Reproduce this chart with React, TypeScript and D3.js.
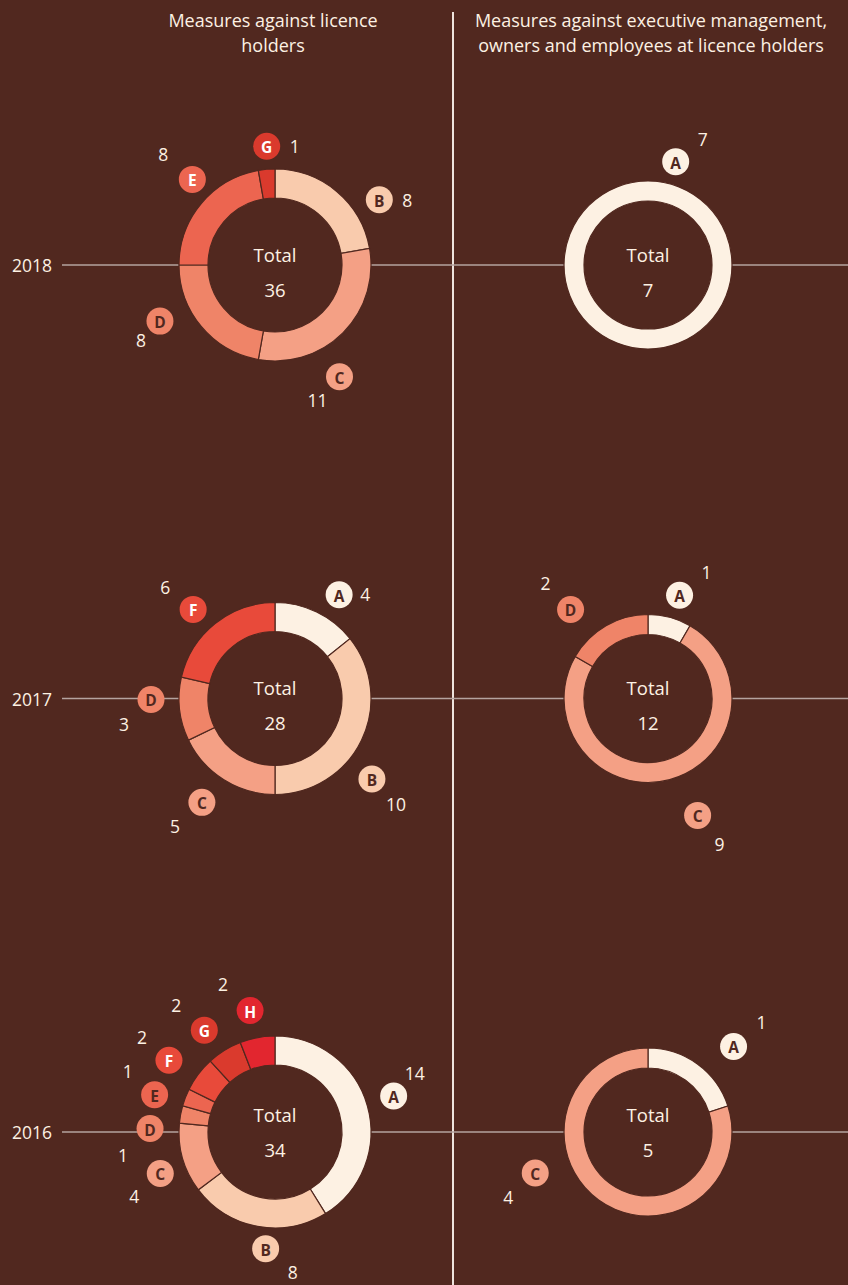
import React from "react"
import * as d3 from "d3"

// categories of measures (A..H)
const categories = ["A", "B", "C", "D", "E", "F", "G", "H"]
const years = ["2018", "2017", "2016"]

// measures against licence holders
const holders2018 = [0, 8, 11, 8, 8, 0, 1, 0]
const holders2017 = [4, 10, 5, 3, 0, 6, 0, 0]
const holders2016 = [14, 8, 4, 1, 1, 2, 2, 2]

// measures against executive management, owners and employees
const persons2018 = [7, 0, 0, 0, 0, 0, 0, 0]
const persons2017 = [1, 0, 9, 2, 0, 0, 0, 0]
const persons2016 = [1, 0, 4, 0, 0, 0, 0, 0]

const headers = [
  ["Measures against licence", "holders"],
  ["Measures against executive management,", "owners and employees at licence holders"]
]

const colours = ["#fdf1e3", "#f9cbad", "#f4a085", "#ef8468", "#ec6550", "#e84a3a", "#da3a2d", "#e2262f"]
const bg = "#51281f"
const cream = "#fdf1e3"

// label placement tweaks: angle nudge (deg) from the slice middle, radius, offset of the number from the badge
const labelNudge: Record<string, Record<string, number[]>> = {
  h2018: { B: [18, 123, 28, 0], C: [15, 129, -22, 23], D: [14, 128, -19, 19], E: [6, 119, -29, -25], G: [1, 119, 28, 0] },
  p2018: { A: [-165, 107, 27, -23] },
  h2017: { A: [6, 122, 26, -1], B: [14, 126, 24, 25], C: [3, 127, -27, 24], D: [6, 124, -27, 25], F: [-4, 121, -28, -22] },
  p2017: { A: [2, 108, 27, -23], C: [-8, 127, 22, 29], D: [-11, 118, -25, -26] },
  h2016: { A: [-1, 124, 21, -23], B: [-6, 117, 27, 23], C: [-4, 122, -26, 23], D: [-9, 125, -27, 26], E: [-4, 126, -27, -24], F: [-3, 128, -27, -23], G: [-3, 124, -28, -25], H: [-1, 124, -27, -27] },
  p2016: { A: [9, 121, 28, -24], C: [34, 120, -27, 24] }
}

const width = 848
const height = 1285
const fontFamily = "'Open Sans', 'Noto Sans', sans-serif"

const rowY = d3.scalePoint().domain(years).range([265, 1132])
const colX = [275, 648]
const radii = [[67, 96], [64, 84]]

function Donut(props: { values: number[], cx: number, cy: number, inner: number, outer: number, nudge: Record<string, number[]>, darkLetters: string[], textShift: number }) {
  const { values, cx, cy, inner, outer, nudge, darkLetters, textShift } = props
  const data = categories.map((c, i) => ({ cat: c, value: values[i], colour: colours[i] })).filter(d => d.value > 0)
  const pie = d3.pie<any>().sort(null).value(d => d.value)
  const arcs = pie(data)
  const arc = d3.arc<any>().innerRadius(inner).outerRadius(outer)
  const total = d3.sum(values)
  return (
    <g transform={`translate(${cx},${cy})`}>
      {arcs.map(a => (
        <path key={a.data.cat} d={arc(a) || ""} fill={a.data.colour} stroke={bg} strokeWidth={1.2} />
      ))}
      <text y={-11 + textShift} textAnchor="middle" dominantBaseline="central" fill={cream} fontSize={18.5}>Total</text>
      <text y={24 + textShift} textAnchor="middle" dominantBaseline="central" fill={cream} fontSize={18.5}>{total}</text>
      {arcs.map(a => {
        const n = nudge[a.data.cat] || [0, 124, 25, 25]
        const ang = ((a.startAngle + a.endAngle) / 2) + n[0] * Math.PI / 180
        const bx = Math.sin(ang) * n[1]
        const by = -Math.cos(ang) * n[1]
        const dark = darkLetters.includes(a.data.cat)
        return (
          <g key={"l" + a.data.cat}>
            <circle cx={bx} cy={by} r={13.5} fill={a.data.colour} />
            <text x={bx} y={by + 1} textAnchor="middle" dominantBaseline="central" fontSize={15.5} fontWeight="bold" fill={dark ? bg : "#ffffff"}>{a.data.cat}</text>
            <text x={bx + n[2]} y={by + n[3]} textAnchor="middle" dominantBaseline="central" fontSize={17.5} fill={cream}>{a.data.value}</text>
          </g>
        )
      })}
    </g>
  )
}

export default function App() {
  const rows = [
    { year: "2018", h: holders2018, p: persons2018, shift: 0 },
    { year: "2017", h: holders2017, p: persons2017, shift: 0 },
    { year: "2016", h: holders2016, p: persons2016, shift: -7 }
  ]
  return (
    <svg width={width} height={height} style={{ position: "absolute", left: 0, top: 0, background: bg }} fontFamily={fontFamily}>
      <rect width={width} height={height} fill={bg} />
      <line x1={453} x2={453} y1={12} y2={height} stroke="#eee3dd" strokeWidth={2} />
      {headers.map((lines, i) => (
        <text key={i} x={i === 0 ? 273 : 651} textAnchor="middle" fill={cream} fontSize={18}>
          {lines.map((t, j) => (
            <tspan key={j} x={i === 0 ? 273 : 651} y={27 + j * 25}>{t}</tspan>
          ))}
        </text>
      ))}
      {rows.map(r => {
        const y = rowY(r.year) as number
        return (
          <g key={r.year}>
            <text x={32} y={y} textAnchor="middle" dominantBaseline="central" fill={cream} fontSize={17.5}>{r.year}</text>
            <line x1={62} x2={colX[0] - radii[0][1]} y1={y} y2={y} stroke="#b5a39f" strokeWidth={1.5} />
            <line x1={colX[0] + radii[0][1]} x2={colX[1] - radii[1][1]} y1={y} y2={y} stroke="#b5a39f" strokeWidth={1.5} />
            <line x1={colX[1] + radii[1][1]} x2={width} y1={y} y2={y} stroke="#b5a39f" strokeWidth={1.5} />
            <Donut values={r.h} cx={colX[0]} cy={y} inner={radii[0][0]} outer={radii[0][1]} nudge={labelNudge["h" + r.year]} darkLetters={r.year === "2016" ? ["A", "B", "C", "D", "E"] : ["A", "B", "C", "D"]} textShift={r.shift} />
            <Donut values={r.p} cx={colX[1]} cy={y} inner={radii[1][0]} outer={radii[1][1]} nudge={labelNudge["p" + r.year]} darkLetters={["A", "B", "C", "D"]} textShift={r.shift} />
          </g>
        )
      })}
    </svg>
  )
}
